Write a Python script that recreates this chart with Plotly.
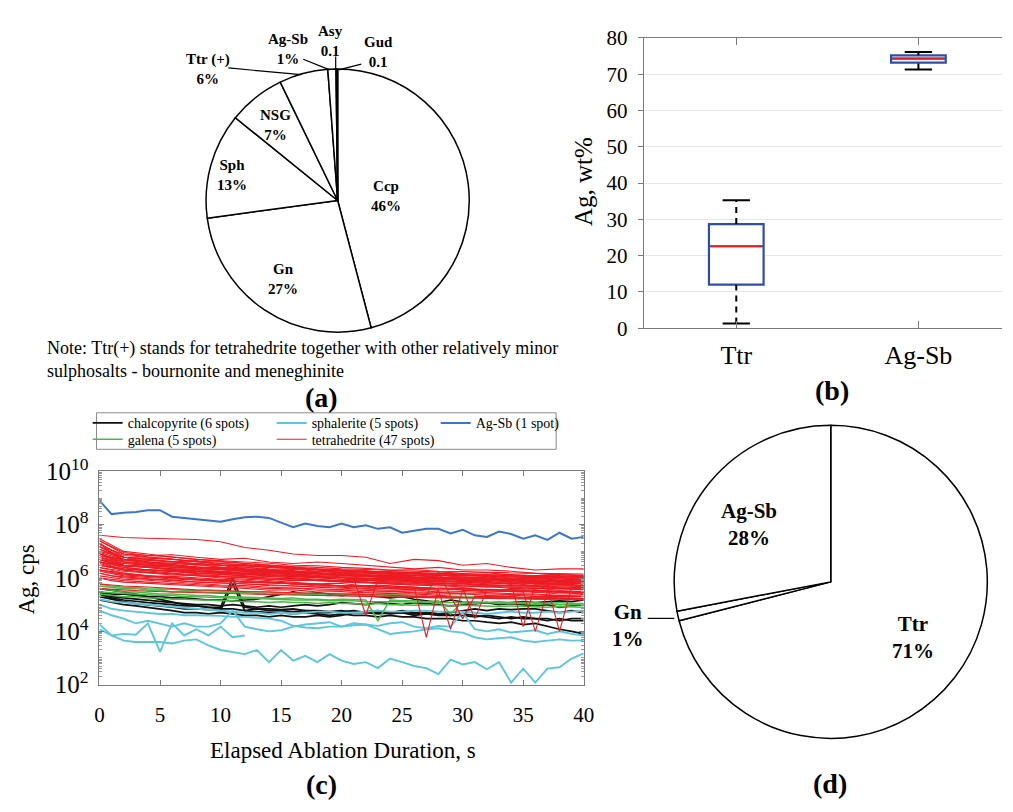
import plotly.graph_objects as go

W, H = 1013, 812
FONT = "Liberation Serif"

# ---------------- (a) mineral share pie ----------------
pie_a_labels = ["Ccp", "Gn", "Sph", "NSG", "Ttr (+)", "Ag-Sb", "Asy", "Gud"]
pie_a_values = [46, 27, 13, 7, 6, 1, 0.1, 0.1]
pie_a_text = ["46%", "27%", "13%", "7%", "6%", "1%", "0.1", "0.1"]

# ---------------- (b) Ag wt% box statistics ----------------
box_cats = ["Ttr", "Ag-Sb"]
box_low = [1.3, 71.3]
box_q1 = [12.0, 73.2]
box_med = [22.6, 74.3]
box_q3 = [28.7, 75.2]
box_high = [35.3, 76.1]

# ---------------- (d) Ag share pie ----------------
pie_d_labels = ["Ttr", "Gn", "Ag-Sb"]
pie_d_values = [71, 1, 28]
pie_d_text = ["71%", "1%", "28%"]

# ---------------- (c) Ag signal vs ablation time ----------------
t_1s = list(range(0, 41))
t_2s = list(range(0, 41, 2))
t_short = list(range(0, 13))

agsb_1 = [8e8, 2.5e8, 2.8e8, 3e8, 3.5e8, 3.5e8, 2e8, 1.8e8, 1.6e8, 1.5e8,
          1.3e8, 1.6e8, 1.9e8, 2e8, 1.8e8, 1.2e8, 8e7, 1.1e8, 9e7, 8e7,
          1.1e8, 8e7, 9.5e7, 7e7, 8e7, 5e7, 6e7, 7e7, 7e7, 4.7e7,
          6.5e7, 4e7, 3.5e7, 5.5e7, 4.5e7, 3e7, 4e7, 2.7e7, 5e7, 3e7,
          3.5e7]

ccp_1 = [3e5, 2.5e5, 2.5e5, 2.2e5, 2e5, 2e5, 1.8e5, 1.8e5, 1.6e5, 1.5e5,
         1.5e5, 1.4e5, 1.5e5, 1.6e5, 2e5, 2.5e5, 3e5, 2.5e5, 2.8e5, 2.5e5,
         2.2e5, 2.5e5, 2.2e5, 2e5, 1.8e5, 2e5, 1.6e5, 1.4e5, 1.2e5, 1.5e5,
         1.3e5, 1.1e5, 1.2e5, 1e5, 1.1e5, 1e5, 9e4, 1e5, 8e4, 9e4,
         1e5]
ccp_2 = [2.5e5, 1.8e5, 1.5e5, 1.3e5, 1.2e5, 1.1e5, 1e5, 9e4, 9e4, 8e4,
         8e4, 1e6, 8e4, 7e4, 7e4, 6.5e4, 7e4, 6e4, 6e4, 5.5e4,
         6e4, 5e4, 5.5e4, 6e4, 5e4, 5e4, 4.5e4, 5e4, 4.5e4, 4e4,
         4e4, 3.5e4, 4e4, 3.5e4, 3e4, 3.5e4, 3e4, 3e4, 2.5e4, 3e4,
         3e4]
ccp_3 = [2e5, 1.6e5, 1.3e5, 1.1e5, 1e5, 9e4, 8e4, 7e4, 7e4, 6.5e4,
         6e4, 6e5, 6e4, 5.5e4, 5e4, 5e4, 4.5e4, 5e4, 4.5e4, 4e4,
         4.5e4, 4e4, 4e4, 3.5e4, 4e4, 3.5e4, 3.5e4, 3e4, 3e4, 3e4,
         2.5e4, 2.5e4, 2.2e4, 2e4, 2.2e4, 1.8e4, 2e4, 1.5e4, 1.2e4, 1e4,
         8e3]
ccp_4 = [4e5, 3.5e5, 3e5, 2.5e5, 2e5, 1.6e5, 1.3e5, 1e5, 9e4, 8e4,
         7e4, 7e4, 6e4, 7e4, 6e4, 6e4, 5.5e4, 6e4, 5e4, 5e4,
         5.5e4, 6e4, 5e4, 5e4, 4.5e4, 5e4, 4e4, 4.5e4, 4e4, 4e4,
         4.5e4, 4e4, 3.5e4, 3e4, 3.5e4, 3e4, 3e4, 2.5e4, 3e4, 2.5e4,
         2.5e4]
ccp_5 = [1.5e5, 1.2e5, 1e5, 9e4, 8e4, 7e4, 6e4, 5e4, 5e4, 4.5e4,
         5e4, 4.5e4, 4e4, 4e4, 3.5e4, 4e4, 3.5e4, 3.5e4, 4e4, 3.5e4,
         4e4, 5e4, 5e4, 4.5e4, 5e4, 6e4, 5e4, 5e4, 4.5e4, 5e4,
         6e4, 7e4, 6e4, 7e4, 6.5e4, 7e4, 7e4, 6e4, 5e4, 6e4,
         5e4]
ccp_6 = [3e5, 2e5, 1.8e5, 1.6e5, 1.5e5, 1.3e5, 1.2e5, 1.1e5, 1e5, 1e5,
         9e4, 1e5, 9e4, 8e4, 9e4, 8e4, 9e4, 1e5, 9e4, 1e5,
         1.2e5, 1.1e5, 1e5, 1.2e5, 1.1e5, 1e5, 1.2e5, 1.1e5, 1e5, 9e4,
         1e5, 1.1e5, 1.2e5, 1.1e5, 1.2e5, 1.3e5, 1.2e5, 1.3e5, 1.4e5, 1.3e5,
         1.5e5]

sph_1 = [1.6e5, 1.3e5, 1.2e5, 1.1e5, 1e5, 9e4, 8e4, 7.5e4, 7e4, 6.5e4,
         6e4, 5.5e4, 5e4, 5e4, 4.5e4, 5e4, 4.5e4, 5e4, 5.5e4, 5.5e4,
         5e4, 5e4, 5.5e4, 6e4, 5.5e4, 5.5e4, 6e4, 6e4, 5.5e4, 5.5e4,
         5.5e4, 5e4, 4.5e4, 5e4, 5.5e4, 5e4, 5e4, 5.5e4, 5e4, 5.5e4,
         6e4]
sph_2 = [1e5, 7e4, 6e4, 5.5e4, 5e4, 4.5e4, 4.5e4, 4e4, 4e4, 4e4,
         3.8e4, 3.5e4, 3.5e4, 3.2e4, 3e4, 2.5e4, 1.6e4, 1.4e4, 1.3e4, 1.5e4,
         1.5e4, 1.7e4, 1.8e4, 1.2e4, 8e3, 9e3, 1e4, 1.2e4, 1.3e4, 1e4,
         9e3, 6e3, 5e3, 5.5e3, 6e3, 4.5e3, 4e3, 4.5e3, 5e3, 4.5e3,
         4.6e3]
sph_3 = [6e4, 4e4, 3e4, 2e4, 2.5e4, 2e4, 1.5e4, 2e4, 1.5e4, 1.5e4,
         2e4, 6e4, 1.5e4, 1.2e4, 1e4, 1.1e4, 1.5e4, 1.8e4, 2e4, 2.2e4,
         1.5e4, 2e4, 1.8e4, 1.6e4, 2e4, 2.2e4, 1.5e4, 1.3e4, 1.6e4, 1.5e4,
         5e4, 1.2e4, 1e4, 1.2e4, 9e3, 1e4, 1.1e4, 8e3, 1e4, 8e3,
         7e3]
sph_4 = [1.8e4, 7e3, 8e3, 7.5e3, 2e4, 1.7e3, 2e4, 7e3, 1.2e4, 7e3, 1.5e4, 6e3, 7e3]
sph_5 = [1.2e4, 7e3, 4.5e3, 4e3, 4e3, 4e3, 3.5e3, 4.5e3, 5e3, 3e3,
         2e3, 1.7e3, 1.4e3, 2e3, 7e2, 2e3, 8e2, 1.2e3, 7e2, 1.4e3,
         8e2, 6e2, 7e2, 4.2e2, 9.5e2, 7e2, 5e2, 4.2e2, 2.5e2, 8.7e2,
         5.7e2, 7e2, 3.8e2, 7e2, 1.2e2, 4e2, 1.2e2, 4e2, 4.5e2, 9.5e2,
         1.5e3]

gn_1 = [5e5, 4.5e5, 4e5, 4e5, 3.5e5, 3.5e5, 3e5, 3.2e5, 3e5, 3e5,
        2.8e5, 3e5, 2.8e5, 2.6e5, 2.5e5, 2.6e5, 2.4e5, 2.5e5, 2.3e5, 2.2e5,
        2.4e5, 2.2e5, 2.2e5, 2e5, 2.1e5, 2e5, 2e5, 1.9e5, 2e5, 1.8e5,
        1.9e5, 1.8e5, 1.8e5, 1.7e5, 1.8e5, 1.7e5, 1.7e5, 1.6e5, 1.7e5, 1.6e5,
        1.6e5]
gn_2 = [4e5, 3.5e5, 3e5, 3e5, 2.8e5, 2.5e5, 2.5e5, 2.3e5, 2.2e5, 2.2e5,
        2e5, 2e5, 1.9e5, 1.8e5, 1.8e5, 1.7e5, 1.8e5, 1.6e5, 1.6e5, 1.5e5,
        1.6e5, 1.5e5, 1.5e5, 2.5e4, 1.5e5, 1.4e5, 1.4e5, 1.3e5, 1.4e5, 4.5e4,
        1.3e5, 1.3e5, 1.2e5, 1.3e5, 1.2e5, 1.2e5, 1.2e5, 1.1e5, 1.2e5, 1.1e5,
        1.1e5]
gn_3 = [3e5, 2.8e5, 2.6e5, 2.5e5, 2.4e5, 2.2e5, 2.2e5, 2e5, 2e5, 1.9e5,
        1.8e5, 1.8e5, 1.7e5, 1.7e5, 1.6e5, 1.6e5, 1.5e5, 1.5e5, 1.5e5, 1.4e5,
        1.4e5, 1.4e5, 1.3e5, 1.3e5, 1.3e5, 1.3e5, 1.2e5, 1.3e5, 1.2e5, 1.2e5,
        1.2e5, 1.1e5, 1.2e5, 1.1e5, 1.1e5, 1.1e5, 1e5, 1.1e5, 1e5, 1e5,
        1e5]
gn_4 = [6e5, 5e5, 4.5e5, 4.5e5, 4e5, 4e5, 3.8e5, 3.5e5, 3.5e5, 3.4e5,
        3.2e5, 3.2e5, 3e5, 3e5, 3e5, 2.8e5, 2.8e5, 2.7e5, 2.6e5, 2.6e5,
        2.5e5, 2.5e5, 2.4e5, 2.4e5, 2.3e5, 2.3e5, 2.2e5, 2.2e5, 1.8e6, 2.1e5,
        2e5, 2e5, 2e5, 1.9e5, 1.9e5, 1.8e5, 1.8e5, 1.8e5, 1.7e5, 1.7e5,
        1.7e5]
gn_5 = [2.5e5, 2.2e5, 2e5, 2e5, 1.8e5, 1.8e5, 1.6e5, 1.6e5, 1.5e5, 1.5e5,
        1.4e5, 1.4e5, 1.3e5, 1.3e5, 1.2e5, 1.3e5, 1.2e5, 1.2e5, 1.1e5, 1.2e5,
        1.1e5, 1.1e5, 1e5, 1.1e5, 1e5, 1e5, 9.5e4, 1e5, 9.5e4, 9e4,
        9.5e4, 9e4, 9e4, 8.5e4, 9e4, 8.5e4, 8.5e4, 8e4, 8.5e4, 8e4,
        8e4]

# tetrahedrite spots sampled every 2 s
ttr_01 = [4e7, 3.3e7, 3.1e7, 3e7, 2.8e7, 2.3e7, 1.4e7, 1.1e7, 8e6, 7e6, 7e6, 6e6, 3.5e6, 5e6, 4.5e6, 3e6, 3.5e6, 2.5e6, 2e6, 2.2e6, 2.2e6]
ttr_02 = [2.5e7, 8e6, 7e6, 7.5e6, 6e6, 5e6, 5.5e6, 4e6, 3.5e6, 4e6, 3.5e6, 3e6, 2.5e6, 2.2e6, 2.5e6, 2e6, 2e6, 1.8e6, 1.5e6, 1.3e6, 1.2e6]
ttr_03 = [1.5e7, 6e6, 5e6, 4e6, 4.5e6, 3e6, 3.2e6, 2.5e6, 2.6e6, 2e6, 1.6e6, 1.9e6, 1.5e6, 1.2e6, 1.4e6, 1e6, 1.1e6, 9e5, 1e6, 8e5, 9e5]
ttr_04 = [1.2e7, 5e6, 3.8e6, 3.6e6, 3e6, 3.1e6, 2.2e6, 2e6, 1.9e6, 1.5e6, 1.6e6, 1.3e6, 1.2e6, 1.3e6, 1e6, 9e5, 1e6, 8e5, 7e5, 8e5, 7e5]
ttr_05 = [2e7, 4e6, 3.6e6, 3e6, 3.3e6, 2.5e6, 2.6e6, 2e6, 1.8e6, 1.5e6, 1.4e6, 1.6e6, 1.2e6, 1e6, 1.1e6, 9e5, 8e5, 9e5, 7e5, 6e5, 7.5e5]
ttr_06 = [8e6, 4.5e6, 4e6, 3.1e6, 2.5e6, 2.3e6, 2e6, 2.1e6, 1.6e6, 1.4e6, 1.3e6, 1.2e6, 1e6, 9e5, 9.5e5, 8e5, 8.5e5, 7e5, 6e5, 6.5e5, 5e5]
ttr_07 = [1e7, 6e6, 5.5e6, 5e6, 4.2e6, 4e6, 3.5e6, 3e6, 2.7e6, 2.5e6, 2.2e6, 2.1e6, 2e6, 1.8e6, 1.7e6, 1.5e6, 1.6e6, 1.3e6, 1.2e6, 1.4e6, 1.2e6]
ttr_08 = [6e6, 3e6, 2.6e6, 2.2e6, 2.1e6, 1.8e6, 1.5e6, 1.5e6, 1.3e6, 1.2e6, 1e6, 9e5, 9.5e5, 8e5, 7e5, 7.5e5, 6e5, 6.5e5, 5e5, 5.5e5, 5e5]
ttr_09 = [5e6, 3.5e6, 3e6, 2.9e6, 2.5e6, 2.2e6, 2.1e6, 1.7e6, 1.6e6, 1.6e6, 1.3e6, 1.2e6, 1.2e6, 1e6, 1.05e6, 9e5, 8e5, 8.5e5, 8e5, 7e5, 7.5e5]
ttr_10 = [4e6, 2.5e6, 2e6, 1.9e6, 1.5e6, 1.4e6, 1.2e6, 1e6, 9.5e5, 8e5, 7.5e5, 7e5, 6e5, 5.5e5, 5.5e5, 4.5e5, 5e5, 4e5, 4.2e5, 3.5e5, 3.8e5]
ttr_11 = [3e7, 1e7, 8e6, 6e6, 5e6, 4.2e6, 3.5e6, 3.1e6, 2.5e6, 2.1e6, 1.8e6, 1.7e6, 1.5e6, 1.4e6, 1.3e6, 1.25e6, 1.2e6, 1e6, 1.05e6, 1e6, 9e5]
ttr_12 = [3e6, 2e6, 2.1e6, 1.8e6, 1.6e6, 1.5e6, 1.3e6, 1.2e6, 1.15e6, 1e6, 9e5, 8.5e5, 8e5, 7e5, 6.5e5, 6e5, 5e5, 5.5e5, 5e5, 4.2e5, 4.5e5]
ttr_13 = [2.5e6, 1.5e6, 1.2e6, 1.05e6, 9e5, 8.5e5, 7e5, 6.5e5, 6e5, 5e5, 5.2e5, 4.5e5, 4e5, 4.2e5, 3.5e5, 3.7e5, 3e5, 3.2e5, 3e5, 2.5e5, 2.7e5]
ttr_14 = [1.8e7, 7e6, 6e6, 5.2e6, 4e6, 3.6e6, 3e6, 2.7e6, 2.5e6, 2.1e6, 2e6, 1.8e6, 1.5e6, 1.6e6, 1.3e6, 1.2e6, 1.15e6, 1.1e6, 1e6, 1.05e6, 9e5]
ttr_15 = [7e6, 4e6, 3.1e6, 2.5e6, 2.3e6, 2e6, 1.8e6, 1.6e6, 1.4e6, 1.25e6, 1.1e6, 1e6, 9e5, 9.5e5, 8e5, 7e5, 7.5e5, 6e5, 6.2e5, 6e5, 5e5]
ttr_16 = [2e6, 1.5e6, 1.2e6, 1.15e6, 1e6, 9e5, 8.2e5, 7e5, 6.5e5, 6e5, 5e5, 5.2e5, 5e5, 4.5e5, 4e5, 4.2e5, 3.5e5, 3.6e5, 3e5, 3.2e5, 3e5]
ttr_17 = [9e6, 5e6, 4e6, 3.6e6, 3.5e6, 3e6, 2.6e6, 2.2e6, 2.1e6, 1.8e6, 1.6e6, 1.55e6, 1.4e6, 1.2e6, 1.25e6, 1.1e6, 1e6, 9e5, 1e6, 9e5, 8.5e5]
ttr_18 = [1.5e6, 1e6, 9e5, 8.5e5, 7e5, 6.5e5, 6e5, 5.2e5, 5e5, 4.5e5, 4.2e5, 4e5, 3.5e5, 3.6e5, 3e5, 3.1e5, 2.8e5, 2.6e5, 2.5e5, 2.2e5, 2.4e5]
ttr_19 = [1.2e7, 6e6, 4e6, 3.2e6, 2.5e6, 2.6e6, 2e6, 1.8e6, 1.7e6, 1.5e6, 1.35e6, 1.2e6, 1.15e6, 1e6, 1.05e6, 9e5, 9.2e5, 8e5, 8.5e5, 7e5, 7.5e5]
ttr_20 = [5e6, 3e6, 2.5e6, 2.1e6, 1.8e6, 1.7e6, 1.4e6, 1.3e6, 1.1e6, 1.05e6, 9e5, 8.5e5, 7e5, 7.5e5, 6e5, 6.5e5, 5.5e5, 5.2e5, 5e5, 4.5e5, 4.8e5]
ttr_21 = [1e6, 8e5, 7e5, 6.2e5, 5.5e5, 5e5, 4.6e5, 4e5, 4.2e5, 3.5e5, 3.6e5, 3e5, 3.1e5, 2.8e5, 2.5e5, 2.6e5, 2.2e5, 2.3e5, 2e5, 2.1e5, 2e5]
ttr_22 = [6e6, 3.5e6, 3e6, 2.6e6, 2.5e6, 2.1e6, 1.8e6, 1.7e6, 1.5e6, 1.45e6, 1.2e6, 1.15e6, 1e6, 1.05e6, 9e5, 8.2e5, 8.5e5, 7e5, 7.2e5, 6e5, 6.5e5]
ttr_23 = [4e5, 3.5e5, 3.2e5, 3e5, 2.8e5, 2.6e5, 2.5e5, 2.4e5, 2.3e5, 2.2e5, 2.1e5, 2e5, 2e5, 1.9e5, 1.8e5, 1.8e5, 1.7e5, 1.7e5, 1.6e5, 1.6e5, 1.5e5]
ttr_24 = [4e6, 3e6, 2.8e6, 2.6e6, 2.2e6, 2.1e6, 1.8e6, 1.75e6, 1.6e6, 1.55e6, 1.4e6, 1.35e6, 1.2e6, 1.25e6, 1.1e6, 1.05e6, 1e6, 9.5e5, 9e5, 9.2e5, 8.5e5]
ttr_25 = [2.5e7, 9e6, 7e6, 6.2e6, 5e6, 4.6e6, 4e6, 3.6e6, 3e6, 2.9e6, 2.5e6, 2.3e6, 2e6, 2.05e6, 1.8e6, 1.75e6, 1.6e6, 1.55e6, 1.5e6, 1.45e6, 1.4e6]
ttr_26 = [3.5e6, 2e6, 1.6e6, 1.45e6, 1.2e6, 1.15e6, 1e6, 9.2e5, 8e5, 8.2e5, 7e5, 6.6e5, 6e5, 5.6e5, 5e5, 5.1e5, 4.5e5, 4.6e5, 4e5, 4.1e5, 3.6e5]
ttr_27 = [1.5e7, 5e6, 4e6, 3.1e6, 2.6e6, 2.3e6, 2e6, 1.85e6, 1.5e6, 1.45e6, 1.3e6, 1.25e6, 1.1e6, 1.05e6, 9e5, 9.2e5, 8e5, 8.2e5, 7e5, 7.2e5, 6e5]
ttr_28 = [2e6, 1.3e6, 1.15e6, 1e6, 9.2e5, 8e5, 7.2e5, 7e5, 6e5, 5.6e5, 5e5, 5.1e5, 4.5e5, 4.1e5, 4e5, 3.6e5, 3.5e5, 3.1e5, 3e5, 3.05e5, 2.8e5]
ttr_29 = [7e6, 5e6, 4.6e6, 4e6, 3.6e6, 3e6, 2.9e6, 2.5e6, 2.3e6, 2e6, 1.85e6, 1.7e6, 1.65e6, 1.5e6, 1.45e6, 1.3e6, 1.35e6, 1.2e6, 1.25e6, 1.1e6, 1.15e6]
ttr_30 = [1.2e6, 9e5, 8.2e5, 7e5, 6.2e5, 5.5e5, 5.2e5, 4.5e5, 4.2e5, 4e5, 3.6e5, 3.5e5, 3.1e5, 3e5, 2.9e5, 2.6e5, 2.55e5, 2.4e5, 2.3e5, 2.2e5, 2.1e5]
ttr_31 = [5e6, 2.5e6, 2e6, 1.7e6, 1.5e6, 1.35e6, 1.2e6, 1.15e6, 1e6, 9.2e5, 8e5, 8.2e5, 7e5, 7.2e5, 6e5, 6.2e5, 5.5e5, 5.1e5, 5e5, 4.6e5, 4.5e5]
ttr_32 = [3e6, 2.2e6, 2.05e6, 1.8e6, 1.75e6, 1.5e6, 1.45e6, 1.3e6, 1.25e6, 1.1e6, 1.05e6, 9.5e5, 9.2e5, 8.5e5, 8.2e5, 7.5e5, 7.2e5, 7e5, 6.6e5, 6e5, 6.2e5]
ttr_33 = [9e6, 3e6, 2.6e6, 2e6, 1.85e6, 1.6e6, 1.55e6, 1.3e6, 1.25e6, 1.1e6, 1.05e6, 9e5, 8.2e5, 8e5, 7.2e5, 7e5, 6.2e5, 6e5, 6.1e5, 5.5e5, 5.2e5]
ttr_34 = [6e5, 5e5, 4.6e5, 4e5, 3.6e5, 3.5e5, 3.1e5, 3e5, 2.85e5, 2.6e5, 2.55e5, 2.4e5, 2.25e5, 2e5, 2.05e5, 1.9e5, 1.85e5, 1.8e5, 1.75e5, 1.6e5, 1.65e5]
ttr_35 = [4e6, 2.8e6, 2.5e6, 2.2e6, 2.05e6, 1.8e6, 1.65e6, 1.5e6, 1.45e6, 1.3e6, 1.25e6, 1.1e6, 1.05e6, 1e6, 9.2e5, 9e5, 8.6e5, 8e5, 8.2e5, 7.5e5, 7.2e5]
ttr_36 = [2e7, 6e6, 5e6, 4.1e6, 3.5e6, 3.1e6, 2.8e6, 2.6e6, 2.2e6, 2.05e6, 1.8e6, 1.75e6, 1.6e6, 1.55e6, 1.4e6, 1.35e6, 1.2e6, 1.25e6, 1.1e6, 1.15e6, 1e6]
ttr_37 = [1.8e6, 1.2e6, 1.05e6, 9e5, 8.2e5, 7.5e5, 7.2e5, 6.5e5, 6.1e5, 5.5e5, 5.2e5, 4.8e5, 4.6e5, 4.2e5, 4.1e5, 3.8e5, 3.7e5, 3.5e5, 3.4e5, 3.2e5, 3.1e5]
ttr_38 = [8e6, 4e6, 3.3e6, 2.8e6, 2.5e6, 2.2e6, 2.05e6, 1.8e6, 1.65e6, 1.5e6, 1.45e6, 1.3e6, 1.25e6, 1.1e6, 1.05e6, 1e6, 9.2e5, 9e5, 8.6e5, 8e5, 8.2e5]
ttr_39 = [2.5e6, 1.8e6, 1.55e6, 1.3e6, 1.25e6, 1.1e6, 1.05e6, 9e5, 8.6e5, 8e5, 7.2e5, 6.5e5, 6.2e5, 6e5, 5.6e5, 5e5, 5.1e5, 4.5e5, 4.6e5, 4e5, 4.1e5]
ttr_46 = [6e6, 4e6, 3.6e6, 3e6, 2.6e6, 2.45e6, 2.2e6, 2.05e6, 1.8e6, 1.75e6, 1.6e6, 1.55e6, 1.4e6, 1.3e6, 1.35e6, 1.2e6, 1.25e6, 1.1e6, 1.15e6, 1e6, 1.05e6]
ttr_47 = [1.5e7, 8e6, 6.2e6, 5e6, 4.1e6, 3.5e6, 3.1e6, 2.8e6, 2.55e6, 2.2e6, 2.05e6, 1.8e6, 1.75e6, 1.6e6, 1.5e6, 1.45e6, 1.3e6, 1.35e6, 1.2e6, 1.25e6, 1.1e6]

# tetrahedrite spots with sharp drop-outs, sampled every 1 s
ttr_40 = [3e6, 2.4e6, 2e6, 1.8e6, 1.65e6, 1.5e6, 1.4e6, 1.3e6, 1.25e6, 1.1e6,
          1e6, 9.5e5, 9.2e5, 8.6e5, 8e5, 7.5e5, 7.2e5, 6.6e5, 6e5, 6.3e5,
          6.2e5, 5.6e5, 5e5, 5.4e5, 5.2e5, 4.8e5, 4.5e5, 6e3, 4.2e5, 4e5,
          4.1e5, 3.8e5, 3.5e5, 3.7e5, 3.6e5, 3.3e5, 3e5, 3.2e5, 3.1e5, 2.9e5,
          3.1e5]
ttr_41 = [1.5e6, 1.2e6, 1.1e6, 1e6, 9.2e5, 8.5e5, 8e5, 7.6e5, 7.2e5, 6.8e5,
          6.6e5, 6.2e5, 6e5, 5.8e5, 5.6e5, 5.3e5, 5e5, 4.8e5, 4.6e5, 4.7e5,
          4.5e5, 4.3e5, 4.1e5, 4.2e5, 4e5, 3.8e5, 3.6e5, 3.7e5, 3.5e5, 1.2e4,
          3.5e5, 3.4e5, 3.3e5, 3.1e5, 3.2e5, 3e5, 1e4, 3e5, 2.9e5, 2.8e5,
          2.8e5]
ttr_42 = [5e6, 3.6e6, 3e6, 2.7e6, 2.5e6, 2.2e6, 2.05e6, 1.9e6, 1.8e6, 1.7e6,
          1.65e6, 1.5e6, 1.4e6, 1.38e6, 1.35e6, 1.25e6, 1.2e6, 1.18e6, 1.15e6, 1.05e6,
          1e6, 9.5e5, 4e4, 9.2e5, 9e5, 8.6e5, 8.2e5, 8.1e5, 8e5, 7.6e5,
          7.2e5, 7.1e5, 7e5, 6.5e5, 6.1e5, 1.5e4, 6e5, 5.8e5, 5.6e5, 5.5e5,
          5.5e5]
ttr_43 = [2e6, 1.6e6, 1.4e6, 1.3e6, 1.25e6, 1.1e6, 1e6, 9.6e5, 9.2e5, 8.6e5,
          8e5, 7.6e5, 7.2e5, 7.1e5, 7e5, 6.5e5, 6e5, 6.1e5, 6.1e5, 5.5e5,
          5e5, 5.1e5, 5.1e5, 4.8e5, 4.5e5, 4.6e5, 4.6e5, 4.3e5, 4e5, 4.1e5,
          4.1e5, 3e4, 3.5e5, 3.6e5, 3.5e5, 3.6e5, 3.6e5, 3.3e5, 3e5, 3.1e5,
          3.1e5]
ttr_44 = [4e6, 2.8e6, 2.2e6, 2e6, 1.85e6, 1.7e6, 1.5e6, 1.4e6, 1.35e6, 1.25e6,
          1.2e6, 1.18e6, 1.15e6, 1.05e6, 1e6, 9.6e5, 9.2e5, 8.5e5, 8e5, 7.8e5,
          7.6e5, 7.3e5, 7e5, 6.8e5, 6.6e5, 6.3e5, 6e5, 6.1e5, 6.2e5, 5.8e5,
          5.5e5, 5.6e5, 5.6e5, 5.3e5, 5e5, 5.1e5, 5.1e5, 4.8e5, 1e4, 4.6e5,
          4.5e5]
ttr_45 = [1e6, 8e5, 7e5, 6.6e5, 6.2e5, 5.8e5, 5.5e5, 5.3e5, 5.1e5, 4.8e5,
          4.5e5, 4.3e5, 4.1e5, 3.8e5, 3.5e5, 3.6e5, 3.6e5, 3.3e5, 3e5, 3.05e5,
          3.1e5, 2.9e5, 2.8e5, 2.6e5, 2.5e5, 2.55e5, 2.55e5, 2.4e5, 2.2e5, 2.1e5,
          3e4, 2.1e5, 2e5, 2.05e5, 2.05e5, 1.9e5, 1.8e5, 1.85e5, 1.85e5, 1.8e5,
          1.7e5]

ccp_series = [ccp_1, ccp_2, ccp_3, ccp_4, ccp_5, ccp_6]
sph_series = [(t_1s, sph_1), (t_1s, sph_2), (t_1s, sph_3), (t_short, sph_4), (t_1s, sph_5)]
gn_series = [gn_1, gn_2, gn_3, gn_4, gn_5]
ttr_series = [(t_2s, s) for s in [ttr_01, ttr_02, ttr_03, ttr_04, ttr_05, ttr_06, ttr_07, ttr_08, ttr_09, ttr_10,
                                  ttr_11, ttr_12, ttr_13, ttr_14, ttr_15, ttr_16, ttr_17, ttr_18, ttr_19, ttr_20,
                                  ttr_21, ttr_22, ttr_23, ttr_24, ttr_25, ttr_26, ttr_27, ttr_28, ttr_29, ttr_30,
                                  ttr_31, ttr_32, ttr_33, ttr_34, ttr_35, ttr_36, ttr_37, ttr_38, ttr_39,
                                  ttr_46, ttr_47]]
ttr_series += [(t_1s, s) for s in [ttr_40, ttr_41, ttr_42, ttr_43, ttr_44, ttr_45]]

legend_names = ["chalcopyrite (6 spots)", "sphalerite (5 spots)", "Ag-Sb (1 spot)",
                "galena (5 spots)", "tetrahedrite (47 spots)"]

# ---------------- styling ----------------
C_BLACK = "#111111"
C_CYAN = "#5CC6DB"
C_BLUE = "#3A78C6"
C_GREEN = "#4DB748"
C_RED = "#EC1C24"
BOX_BLUE = "#2F4DA6"
MED_RED = "#E02828"
BOX_W = 0.3
CAP_HALF = 0.075


def fx(p):
    return p / W


def fy(p):
    return 1 - p / H


fig = go.Figure()

# (a)
fig.add_trace(go.Pie(
    labels=pie_a_labels, values=pie_a_values, sort=False, direction="clockwise", rotation=0,
    domain=dict(x=[fx(201), fx(475)], y=[fy(327), fy(53)]),
    marker=dict(colors=["white"] * len(pie_a_labels), line=dict(color="black", width=1.5)),
    textinfo="none", showlegend=False, hoverinfo="label+percent"))

# (d)
fig.add_trace(go.Pie(
    labels=pie_d_labels, values=pie_d_values, sort=False, direction="clockwise", rotation=0,
    domain=dict(x=[fx(676), fx(1002)], y=[fy(750), fy(424)]),
    marker=dict(colors=["white"] * len(pie_d_labels), line=dict(color="black", width=1.5)),
    textinfo="none", showlegend=False, hoverinfo="label+percent"))

# (b) boxes
bx = list(range(len(box_cats)))
fig.add_trace(go.Box(
    x=bx, q1=box_q1, median=box_med, q3=box_q3, lowerfence=box_q1, upperfence=box_q3,
    width=BOX_W, fillcolor="white", line=dict(color=BOX_BLUE, width=2.2),
    boxpoints=False, showlegend=False, xaxis="x", yaxis="y", hoverinfo="skip"))
wx, wy, cx, cy, mx, my = [], [], [], [], [], []
for x, lo, q1, md, q3, hi in zip(bx, box_low, box_q1, box_med, box_q3, box_high):
    wx += [x, x, None, x, x, None]
    wy += [q3, hi, None, lo, q1, None]
    cx += [x - CAP_HALF, x + CAP_HALF, None, x - CAP_HALF, x + CAP_HALF, None]
    cy += [hi, hi, None, lo, lo, None]
    mx += [x - BOX_W / 2 + 0.01, x + BOX_W / 2 - 0.01, None]
    my += [md, md, None]
fig.add_trace(go.Scatter(x=wx, y=wy, mode="lines", line=dict(color="black", width=2, dash="6px,5px"),
                         showlegend=False, xaxis="x", yaxis="y", hoverinfo="skip"))
fig.add_trace(go.Scatter(x=cx, y=cy, mode="lines", line=dict(color="black", width=2),
                         showlegend=False, xaxis="x", yaxis="y", hoverinfo="skip"))
fig.add_trace(go.Scatter(x=mx, y=my, mode="lines", line=dict(color=MED_RED, width=2),
                         showlegend=False, xaxis="x", yaxis="y", hoverinfo="skip"))

# (c) lines
for i, s in enumerate(ccp_series):
    fig.add_trace(go.Scatter(x=t_1s, y=s, mode="lines", line=dict(color=C_BLACK, width=1.7),
                             name=legend_names[0], legendgroup="ccp", showlegend=(i == 0),
                             legend="legend", legendwidth=139, xaxis="x2", yaxis="y2"))
for i, (tt, s) in enumerate(sph_series):
    fig.add_trace(go.Scatter(x=tt, y=s, mode="lines", line=dict(color=C_CYAN, width=1.9),
                             name=legend_names[1], legendgroup="sph", showlegend=(i == 0),
                             legend="legend", legendwidth=119, xaxis="x2", yaxis="y2"))
for i, s in enumerate(gn_series):
    fig.add_trace(go.Scatter(x=t_1s, y=s, mode="lines", line=dict(color=C_GREEN, width=1.5),
                             name=legend_names[3], legendgroup="gn", showlegend=(i == 0),
                             legend="legend2", legendwidth=139, xaxis="x2", yaxis="y2"))
for i, (tt, s) in enumerate(ttr_series):
    fig.add_trace(go.Scatter(x=tt, y=s, mode="lines", line=dict(color=C_RED, width=1.1),
                             name=legend_names[4], legendgroup="ttr", showlegend=(i == 0),
                             legend="legend2", legendwidth=150, xaxis="x2", yaxis="y2"))
fig.add_trace(go.Scatter(x=t_1s, y=agsb_1, mode="lines", line=dict(color=C_BLUE, width=2),
                         name=legend_names[2], legendgroup="agsb", showlegend=True,
                         legend="legend", legendwidth=100, xaxis="x2", yaxis="y2"))

# ---------------- annotations ----------------
ann = []


def add_text(text, x, y, size, bold=False, angle=0, xanchor="center", align="center"):
    ann.append(dict(text=(f"<b>{text}</b>" if bold else text), x=fx(x), y=fy(y), xref="paper", yref="paper",
                    showarrow=False, xanchor=xanchor, yanchor="middle", align=align, textangle=angle,
                    font=dict(family=FONT, size=size, color="black")))


pie_a_pos = [(387, 185), (282, 272), (231, 163), (275, 111), (206, 53), (288, 32), (331, 24), (380, 35)]
for lab, txt, (x, y) in zip(pie_a_labels, pie_a_text, pie_a_pos):
    add_text(f"{lab}<br>{txt}", x, y, 15, bold=True)

pie_d_pos = [(923, 645), (633, 632), (756, 527)]
for lab, txt, (x, y) in zip(pie_d_labels, pie_d_text, pie_d_pos):
    add_text(f"{lab}<br>{txt}", x, y, 21, bold=True)

add_text("Note: Ttr(+) stands for tetrahedrite together with other relatively minor<br>"
         "sulphosalts - bournonite and meneghinite", 41, 356, 18, xanchor="left", align="left")
add_text("(a)", 322, 395, 28, bold=True)
add_text("(b)", 840, 388, 28, bold=True)
add_text("(c)", 322, 798, 28, bold=True)
add_text("(d)", 838, 797, 28, bold=True)
add_text("Ag, wt%", 588, 170, 25, angle=-90)
add_text("Ag, cps", 22, 585, 23, angle=-90)
add_text("Elapsed Ablation Duration, s", 343, 763, 23)

shapes = []


def seg(x0, y0, x1, y1, w=1.2, color="black"):
    shapes.append(dict(type="line", xref="paper", yref="paper", x0=fx(x0), y0=fy(y0), x1=fx(x1), y1=fy(y1),
                       line=dict(color=color, width=w)))


# leader lines
seg(227, 52, 301, 59)
seg(303, 43, 330, 54)
seg(336, 40, 336, 54)
seg(362, 48, 339, 54)
seg(653, 625, 680, 625)
# legend frame
shapes.append(dict(type="rect", xref="paper", yref="paper", x0=fx(93), x1=fx(560), y0=fy(449), y1=fy(411),
                   line=dict(color="#8a8a8a", width=1), fillcolor="rgba(0,0,0,0)"))

AX = "#7a7a7a"
fig.update_layout(
    width=W, height=H, margin=dict(l=0, r=0, t=0, b=0),
    paper_bgcolor="white", plot_bgcolor="white",
    font=dict(family=FONT, color="black", size=14),
    annotations=ann, shapes=shapes,
    xaxis=dict(domain=[fx(649), 1.0], range=[-0.508, 1.459], tickvals=bx, ticktext=box_cats,
               tickfont=dict(size=26), showgrid=False, zeroline=False, showline=True, linecolor=AX,
               mirror="ticks", ticks="inside", ticklen=7, tickcolor=AX, ticklabelstandoff=4, anchor="y"),
    yaxis=dict(domain=[fy(323), fy(20.7)], range=[0, 80], dtick=10, tickfont=dict(size=21),
               showgrid=True, gridcolor="#e6e6e6", zeroline=False, showline=True, linecolor=AX,
               ticks="outside", ticklen=5, tickcolor=AX, ticklabelstandoff=6, anchor="x"),
    xaxis2=dict(domain=[fx(96), fx(588)], range=[0, 40], dtick=5, tickfont=dict(size=21),
                showgrid=False, zeroline=False, showline=True, linecolor=AX, mirror="ticks",
                ticks="inside", ticklen=5, tickcolor=AX, ticklabelstandoff=11, anchor="y2"),
    yaxis2=dict(domain=[fy(694), fy(472)], type="log", range=[2, 10], dtick=2, tickfont=dict(size=20),
                exponentformat="power", showexponent="all",
                showgrid=False, zeroline=False, showline=True, linecolor=AX, mirror="ticks",
                ticks="inside", ticklen=5, tickcolor=AX, ticklabelstandoff=6,
                minor=dict(ticks="inside", ticklen=3, tickcolor="#999999", dtick="D1", showgrid=False),
                anchor="x2"),
    legend=dict(x=fx(84), y=fy(422), xanchor="left", yanchor="middle", orientation="h",
                font=dict(family=FONT, size=14), bgcolor="rgba(0,0,0,0)", borderwidth=0,
                itemwidth=30, tracegroupgap=0),
    legend2=dict(x=fx(84), y=fy(439), xanchor="left", yanchor="middle", orientation="h",
                 font=dict(family=FONT, size=14), bgcolor="rgba(0,0,0,0)", borderwidth=0,
                 itemwidth=30, tracegroupgap=0),
)

fig.write_html("out.html")
